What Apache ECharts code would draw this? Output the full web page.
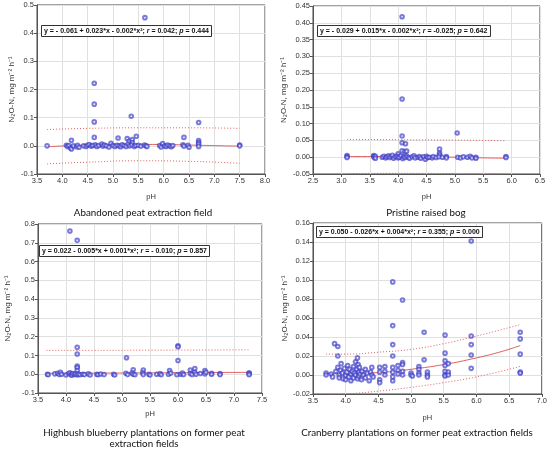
<!DOCTYPE html>
<html><head><meta charset="utf-8">
<script src="https://cdn.jsdelivr.net/npm/echarts@6/dist/echarts.min.js"></script>
<style>html,body{margin:0;padding:0;background:#fff}#c{width:550px;height:449px}</style>
</head><body><div id="c"></div>
<script>
// ---------- DATA ----------
const abandonedPoints = [
 [5.63,0.455],[4.63,0.222],[4.63,0.148],[4.63,0.085],[4.63,0.030],[5.36,0.105],[6.69,0.083],[6.69,0.019],[6.69,0.012],[6.69,0.006],[6.69,-0.002],
 [5.10,0.028],[5.28,0.026],[5.32,0.016],[5.38,0.022],[5.38,0.012],[5.46,0.034],[6.40,0.030],[4.18,0.020],
 [3.70,0.000],[4.08,0.002],[4.10,-0.002],[4.13,0.001],[4.16,-0.008],[4.18,-0.011],[4.22,0.000],[4.28,-0.003],[4.30,0.002],[4.33,-0.005],
 [4.42,0.000],[4.47,-0.002],[4.50,0.002],[4.53,0.005],[4.57,-0.001],[4.60,0.001],[4.65,0.004],[4.68,-0.002],[4.72,0.001],[4.78,0.006],
 [4.80,-0.001],[4.83,0.003],[4.87,0.000],[4.92,-0.004],[4.96,0.009],[5.00,0.001],[5.04,-0.002],[5.08,0.002],[5.12,0.000],[5.15,-0.003],
 [5.18,0.004],[5.22,0.001],[5.26,-0.002],[5.30,0.006],[5.33,0.000],[5.37,0.003],[5.42,-0.002],[5.45,0.001],[5.50,0.002],[5.55,-0.001],
 [5.62,0.003],[5.65,0.000],[5.67,-0.002],[5.92,0.001],[5.95,-0.004],[5.98,0.008],[6.02,0.000],[6.05,-0.002],[6.08,0.003],[6.12,0.000],
 [6.15,-0.003],[6.18,0.001],[6.38,0.004],[6.40,-0.001],[6.48,0.002],[6.50,-0.005],[7.50,0.003],[7.50,0.000]
];
const abandonedFit   = [[3.7,-0.003],[4.2,0.001],[4.7,0.004],[5.2,0.005],[5.7,0.005],[6.2,0.004],[6.7,0.002],[7.2,0.000],[7.5,-0.001]];
const abandonedUpper = [[3.7,0.058],[4.5,0.062],[5.5,0.064],[6.5,0.064],[7.5,0.062]];
const abandonedLower = [[3.7,-0.064],[4.5,-0.058],[5.5,-0.053],[6.5,-0.055],[7.5,-0.062]];

const pristinePoints = [
 [4.07,0.418],[4.07,0.173],[4.07,0.063],[4.07,0.043],[4.13,0.040],[4.07,0.019],[4.12,0.017],[4.15,0.018],[4.00,0.010],
 [4.73,0.024],[4.73,0.012],[4.73,0.007],[5.04,0.072],
 [3.10,0.005],[3.10,0.002],[3.10,-0.001],[3.57,0.005],[3.57,0.002],[3.58,-0.001],[3.60,0.003],[3.60,-0.003],[3.72,0.000],[3.75,0.003],
 [3.78,-0.002],[3.80,0.001],[3.83,0.004],[3.85,-0.001],[3.88,0.002],[3.90,0.006],[3.92,-0.003],[3.95,0.001],[3.98,0.003],[4.00,-0.002],
 [4.02,0.000],[4.05,0.004],[4.08,-0.004],[4.10,0.002],[4.12,-0.001],[4.15,0.003],[4.18,0.000],[4.20,-0.003],[4.25,0.001],[4.28,0.004],
 [4.30,-0.002],[4.35,0.000],[4.38,0.002],[4.40,-0.003],[4.45,0.001],[4.48,-0.006],[4.50,0.003],[4.52,-0.001],[4.55,0.000],[4.60,-0.002],
 [4.62,0.002],[4.67,-0.001],[4.72,0.001],[4.78,0.000],[4.85,0.002],[4.85,-0.002],[5.05,0.000],[5.10,-0.002],[5.15,0.001],[5.22,0.000],
 [5.27,0.003],[5.30,-0.002],[5.37,0.000],[5.37,-0.003],[5.90,0.002],[5.90,-0.001]
];
const pristineFit   = [[3.1,0.002],[3.6,0.002],[4.0,0.002],[4.5,0.001],[5.0,0.000],[5.5,-0.002],[5.9,-0.003]];
const pristineUpper = [[3.1,0.053],[4.0,0.052],[5.0,0.051],[5.9,0.049]];
const pristineLower = [[3.1,-0.049],[4.0,-0.048],[5.0,-0.049],[5.9,-0.050]];

const blueberryPoints = [
 [4.07,0.763],[4.20,0.713],[4.20,0.143],[4.20,0.108],[4.20,0.043],[4.20,0.036],[5.08,0.088],[6.00,0.152],[6.00,0.146],[6.00,0.073],
 [4.20,0.020],[5.20,0.024],[5.38,0.022],[5.85,0.020],[6.22,0.022],[6.30,0.030],[6.48,0.020],
 [3.67,0.000],[3.68,-0.003],[3.80,0.002],[3.85,0.005],[3.88,-0.002],[3.90,0.010],[3.92,0.000],[4.00,-0.004],[4.05,0.003],[4.07,0.008],
 [4.10,0.000],[4.10,-0.005],[4.12,0.004],[4.15,-0.002],[4.17,0.002],[4.20,-0.004],[4.22,0.001],[4.25,-0.003],[4.30,0.000],[4.33,-0.002],
 [4.40,0.002],[4.43,-0.004],[4.55,0.000],[4.57,-0.003],[4.62,0.001],[4.68,-0.002],[4.85,0.000],[4.87,-0.004],[5.07,0.005],[5.10,-0.002],
 [5.18,0.006],[5.20,0.000],[5.23,-0.003],[5.37,0.008],[5.38,-0.002],[5.48,0.000],[5.50,-0.004],[5.62,0.000],[5.68,0.003],[5.70,-0.003],
 [5.83,0.000],[5.87,0.006],[5.98,-0.003],[6.05,0.000],[6.08,0.006],[6.10,-0.002],[6.22,0.004],[6.25,-0.001],[6.30,0.010],[6.32,0.000],
 [6.40,0.004],[6.48,0.002],[6.50,0.010],[6.60,0.005],[6.60,0.000],[6.75,0.003],[6.75,-0.002],[7.27,0.008],[7.27,0.003],[7.27,-0.003]
];
const blueberryFit   = [[3.65,0.005],[4.5,0.006],[5.5,0.007],[6.5,0.009],[7.28,0.010]];
const blueberryUpper = [[3.65,0.127],[4.5,0.127],[5.5,0.128],[6.5,0.129],[7.28,0.130]];

const cranberryPoints = [
 [3.70,0.002],[3.70,0.000],[3.78,0.001],[3.80,-0.002],[3.83,0.033],[3.85,0.004],[3.88,0.030],[3.88,0.020],[3.88,0.008],[3.90,0.000],
 [3.90,-0.003],[3.92,0.005],[3.93,0.012],[3.95,0.002],[3.96,-0.004],[3.98,0.007],[4.00,0.000],[4.00,-0.005],[4.02,0.003],[4.03,0.010],
 [4.05,-0.002],[4.06,0.006],[4.08,0.001],[4.08,-0.006],[4.10,0.004],[4.12,0.009],[4.12,-0.003],[4.13,0.002],[4.15,0.000],[4.15,0.014],
 [4.17,0.006],[4.18,-0.004],[4.18,0.018],[4.19,0.011],[4.20,0.003],[4.20,-0.001],[4.21,0.008],[4.22,0.001],[4.24,-0.005],[4.25,0.004],
 [4.27,0.000],[4.30,0.006],[4.30,-0.003],[4.33,0.002],[4.36,-0.006],[4.38,0.003],[4.40,0.008],[4.40,0.000],[4.42,-0.002],
 [4.52,0.008],[4.52,0.003],[4.52,-0.005],[4.52,-0.008],[4.60,0.009],[4.60,0.004],[4.60,0.000],
 [4.72,0.098],[4.72,0.052],[4.72,0.032],[4.72,0.020],[4.72,0.008],[4.72,0.003],[4.72,-0.002],[4.72,-0.006],
 [4.80,0.010],[4.80,0.005],[4.80,0.001],[4.87,0.079],[4.87,0.013],[4.87,0.011],[4.87,0.004],[4.87,0.000],
 [5.00,0.002],[5.00,0.000],[5.02,-0.001],[5.12,0.009],[5.12,0.006],[5.12,0.002],[5.12,0.000],[5.20,0.045],[5.20,0.016],
 [5.25,0.003],[5.25,0.000],[5.25,-0.002],[5.52,0.042],[5.52,0.023],[5.52,0.015],[5.52,0.010],[5.52,0.004],[5.52,0.000],[5.52,-0.001],
 [5.57,0.012],[5.57,0.003],[5.57,0.000],[5.92,0.141],[5.92,0.041],[5.92,0.032],[5.92,0.021],[5.92,0.007],
 [6.67,0.045],[6.67,0.038],[6.67,0.022],[6.67,0.003],[6.67,0.002]
];
const cranberryFit   = [[3.7,0.002],[4.0,0.001],[4.3,0.002],[4.6,0.003],[5.0,0.006],[5.5,0.011],[6.0,0.018],[6.4,0.025],[6.67,0.031]];
const cranberryUpper = [[3.7,0.022],[4.0,0.022],[4.5,0.024],[5.0,0.027],[5.5,0.033],[6.0,0.041],[6.4,0.048],[6.67,0.053]];
const cranberryLower = [[3.7,-0.021],[4.0,-0.020],[4.5,-0.017],[5.0,-0.013],[5.5,-0.008],[6.0,-0.002],[6.67,0.009]];

const panelTitles = ['Abandoned peat extraction field','Pristine raised bog',
  'Highbush blueberry plantations on former peat\nextraction fields','Cranberry plantations on former peat extraction fields'];
const equations = [
  'y = - 0.061 + 0.023*x - 0.002*x²; {i|r} = 0.042; {i|p} = 0.444',
  'y = - 0.029 + 0.015*x - 0.002*x²; {i|r} = -0.025; {i|p} = 0.642',
  'y = 0.022 - 0.005*x + 0.001*x²; {i|r} = - 0.010; {i|p} = 0.857',
  'y = 0.050 - 0.026*x + 0.004*x²; {i|r} = 0.355; {i|p} = 0.000'
];
const xRanges = [[3.5,8.0,0.5],[2.5,6.5,0.5],[3.5,7.5,0.5],[3.5,7.0,0.5]];
const yRanges = [[-0.1,0.5,0.1,1],[-0.05,0.45,0.05,2],[-0.1,0.8,0.1,1],[-0.02,0.16,0.02,2]];
const yName = 'N₂O-N, mg m⁻² h⁻¹';

// ---------- LAYOUT ----------
const grids = [
  {left:37, top:5, width:228, height:169},
  {left:313, top:6, width:227, height:168},
  {left:38, top:224, width:224, height:169},
  {left:313, top:223, width:229, height:171}
];
const yNameGaps = [21, 25, 26, 23];
const xNameGaps = [19, 19, 17, 20];
const eqPos = [[41,25],[317,25],[39,245],[316,226]];
const titlePos = [[138,202],[421,202],[139,422],[412,422]];

const tickFont = {fontFamily:'Liberation Sans, Arial, sans-serif', fontSize:7.5, color:'#333'};
const eqFont = 'Liberation Sans, Arial, sans-serif';
const ptColor = 'rgba(60,60,200,0.85)', lineColor = '#e06060';

const xAxis = xRanges.map((r,i)=>({
  gridIndex:i, type:'value', min:r[0], max:r[1], interval:r[2],
  name:'pH', nameLocation:'middle', nameGap:xNameGaps[i],
  nameTextStyle:{...tickFont},
  axisLine:{show:true, onZero:false, lineStyle:{color:'#555', width:1}},
  axisTick:{show:true, length:3, lineStyle:{color:'#555'}},
  axisLabel:{...tickFont, margin:3, formatter:v=>v.toFixed(1)},
  splitLine:{show:true, lineStyle:{color:'#e0e0e0', width:1}}
}));
const yAxis = yRanges.map((r,i)=>({
  gridIndex:i, type:'value', min:r[0], max:r[1], interval:r[2],
  name:yName, nameLocation:'middle', nameGap:yNameGaps[i],
  nameTextStyle:{...tickFont, fontSize:8},
  axisLine:{show:true, onZero:false, lineStyle:{color:'#555', width:1}},
  axisTick:{show:true, length:3, lineStyle:{color:'#555'}},
  axisLabel:{...tickFont, margin:3, formatter:v=>v.toFixed(r[3])},
  splitLine:{show:true, lineStyle:{color:'#e0e0e0', width:1}}
}));

const pts = [abandonedPoints, pristinePoints, blueberryPoints, cranberryPoints];
const fits = [abandonedFit, pristineFit, blueberryFit, cranberryFit];
const uppers = [abandonedUpper, pristineUpper, blueberryUpper, cranberryUpper];
const lowers = [abandonedLower, pristineLower, null, cranberryLower];

const series = [];
for (let i=0;i<4;i++){
  const band = d => ({type:'line', xAxisIndex:i, yAxisIndex:i, data:d, smooth:true, showSymbol:false, silent:true,
    lineStyle:{color:lineColor, width:1, type:[1,2]}, z:3});
  series.push(band(uppers[i]));
  if (lowers[i]) series.push(band(lowers[i]));
  series.push({type:'line', xAxisIndex:i, yAxisIndex:i, data:fits[i], smooth:true, showSymbol:false, silent:true,
    lineStyle:{color:lineColor, width:1}, z:3});
  series.push({type:'scatter', xAxisIndex:i, yAxisIndex:i, data:pts[i], symbol:'emptyCircle', symbolSize:3.6,
    itemStyle:{color:ptColor, borderColor:ptColor, borderWidth:0.9}, z:4});
}

const titles = [];
for (let i=0;i<4;i++){
  titles.push({text:panelTitles[i], left:titlePos[i][0], top:titlePos[i][1], textAlign:'center',
    textStyle:{fontFamily:'Lato, Open Sans, sans-serif', fontSize:9.8, fontWeight:'normal', color:'#111', lineHeight:11}});
  titles.push({text:equations[i], left:eqPos[i][0], top:eqPos[i][1], padding:[3,3,2,3],
    borderColor:'#333', borderWidth:1, backgroundColor:'#fff',
    textStyle:{fontFamily:eqFont, fontSize:7, fontWeight:'bold', color:'#111',
      rich:{i:{fontFamily:eqFont, fontSize:7, fontWeight:'bold', fontStyle:'italic', color:'#111'}}}});
}

const chart = echarts.init(document.getElementById('c'), null, {renderer:'canvas'});
chart.setOption({
  backgroundColor:'#fff', animation:false,
  title:titles,
  grid:grids.map(g=>({...g, show:true, borderColor:'#444', borderWidth:1, backgroundColor:'transparent'})),
  xAxis, yAxis, series
});
</script></body></html>
